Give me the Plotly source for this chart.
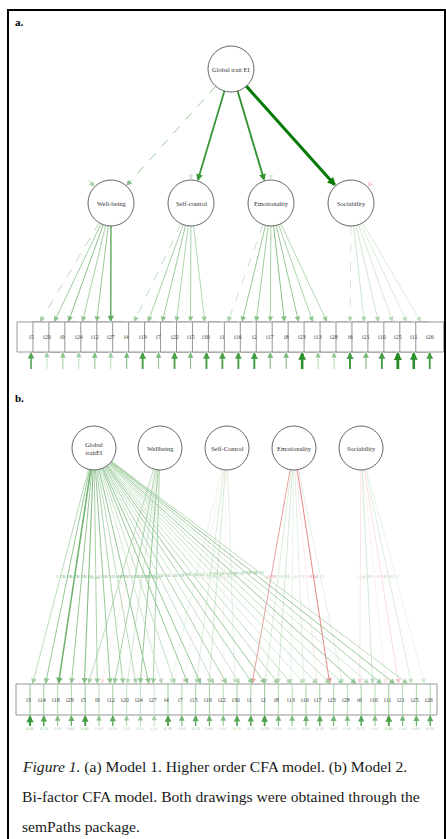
import plotly.graph_objects as go
import math

# ---------------- DATA ----------------
# Panel a: higher-order CFA
A_GLOBAL = "Global trait EI"
A_FACTORS = ["Well-being", "Self-control", "Emotionality", "Sociability"]
A_HIGHER = [0.50, 0.78, 0.80, 0.98]            # global -> factor loadings
A_HIGHER_FIXED = [True, False, False, False]
A_FACTOR_RESID = [0.40, 0.20, 0.15, -0.22]     # factor disturbances
A_ITEMS = ["i5", "i20", "i9", "i24", "i12", "i27",
           "i4", "i19", "i7", "i22", "i15", "i30",
           "i1", "i16", "i2", "i17", "i8", "i23", "i13", "i28",
           "i6", "i21", "i10", "i25", "i11", "i26"]
A_ITEM_FACTOR = [0] * 6 + [1] * 6 + [2] * 8 + [3] * 6
A_LOADINGS = [0.42, 0.50, 0.55, 0.48, 0.52, 0.70,
              0.40, 0.48, 0.50, 0.46, 0.48, 0.45,
              0.38, 0.52, 0.50, 0.48, 0.55, 0.52, 0.47, 0.45,
              0.33, 0.36, 0.35, 0.32, 0.30, 0.28]
A_FIXED = [True] + [False] * 5 + [True] + [False] * 5 + [True] + [False] * 7 + [True] + [False] * 5
A_RESID = [0.75, 0.40, 0.50, 0.40, 0.55, 0.42,
           0.58, 0.80, 0.55, 0.78, 0.58, 0.80,
           0.78, 0.80, 0.82, 0.60, 0.58, 0.92, 0.45, 0.45,
           0.82, 0.60, 0.80, 0.95, 0.92, 0.80]

# Panel b: bi-factor CFA
B_LATENTS = ["Global<br>traitEI", "Wellbeing", "Self-Control", "Emotionality", "Sociability"]
B_ITEMS = ["i3", "i14", "i18", "i29", "i5", "i9", "i12", "i20", "i24", "i27",
           "i4", "i7", "i15", "i19", "i22", "i30",
           "i1", "i2", "i8", "i13", "i16", "i17", "i23", "i28",
           "i6", "i10", "i11", "i21", "i25", "i26"]
B_GROUP = [0] * 4 + [1] * 6 + [2] * 6 + [3] * 8 + [4] * 6
B_GLOBAL = [0.45, 0.55, 0.72, 0.55, 0.60, 0.50, 0.55, 0.50, 0.45, 0.55,
            0.35, 0.42, 0.55, 0.55, 0.40, 0.50,
            0.38, 0.50, 0.55, 0.45, 0.42, 0.32, 0.40, 0.45,
            0.42, 0.55, 0.35, 0.50, 0.55, 0.45]
B_SPECIFIC = [None] * 4 + [0.45, -0.18, 0.50, 0.35, 0.55, 0.50,
                           0.20, -0.15, 0.30, 0.35, -0.12, 0.25,
                           -0.55, 0.30, 0.35, 0.20, 0.25, -0.20, -0.60, 0.25,
                           -0.25, 0.35, -0.15, -0.30, 0.30, 0.20]
B_RESID = [0.85, 0.75, 0.55, 0.65, 0.80, 0.50, 0.70, 0.45, 0.45, 0.40,
           0.78, 0.60, 0.70, 0.65, 0.55, 0.75,
           0.72, 0.78, 0.60, 0.55, 0.65, 0.70, 0.62, 0.55,
           0.72, 0.55, 0.80, 0.60, 0.65, 0.70]

CAPTION = ["<i>Figure 1.</i> (a) Model 1. Higher order CFA model. (b) Model 2.",
           "Bi-factor CFA model. Both drawings were obtained through the",
           "semPaths package."]

# ---------------- helpers ----------------
W, H = 446, 839
SERIF = "Liberation Serif"
fig = go.Figure()
shapes = []
annots = []


def ecol(w, k=0.9):
    f = min(1.0, abs(w) * k)
    base = (0, 120, 0) if w >= 0 else (205, 20, 20)
    r, g, b = [int(round(255 * (1 - f) + c * f)) for c in base]
    return f"rgb({r},{g},{b})"


def ewidth(w):
    return 0.5 + 2.7 * abs(w) ** 3


def arrow(x0, y0, x1, y1, w, dash="solid", label=None, head=True, k=0.9):
    col = ecol(w, k)
    lw = ewidth(w)
    dx, dy = x1 - x0, y1 - y0
    d = math.hypot(dx, dy)
    ux, uy = dx / d, dy / d
    hl = 3.6 + 1.0 * lw
    fig.add_trace(go.Scatter(x=[x0, x1 - ux * 1.5], y=[y0, y1 - uy * 1.5], mode="lines",
                             line=dict(color=col, width=lw, dash=dash),
                             hoverinfo="skip", showlegend=False))
    if head:
        annots.append(dict(x=x1, y=y1, ax=x1 - ux * (hl + 1), ay=y1 - uy * (hl + 1),
                           xref="x", yref="y", axref="x", ayref="y", showarrow=True,
                           arrowhead=2, arrowsize=hl / (4 * lw), arrowwidth=lw,
                           arrowcolor=col, text="", standoff=0))
    if label is not None:
        annots.append(dict(x=(x0 + x1) / 2, y=(y0 + y1) / 2, text=label, showarrow=False,
                           xref="x", yref="y", font=dict(size=4, color=col, family="DejaVu Sans")))


def circ_pt(cx, cy, r, tx, ty):
    d = math.hypot(tx - cx, ty - cy)
    return cx + (tx - cx) / d * r, cy + (ty - cy) / d * r


def latent(cx, cy, r, text, size=6.5):
    shapes.append(dict(type="circle", xref="x", yref="y", x0=cx - r, x1=cx + r, y0=cy - r, y1=cy + r,
                       line=dict(color="#555", width=0.9), fillcolor="white", layer="above"))
    annots.append(dict(x=cx, y=cy, text=text, showarrow=False, xref="x", yref="y",
                       font=dict(size=size, color="#333", family=SERIF)))


def edge_to_item(cx, cy, r, ix, iy_top, iy_bot, w, dash="solid", label=None, k=0.9):
    icy = (iy_top + iy_bot) / 2
    t = (iy_top - cy) / (icy - cy)
    ex, ey = cx + (ix - cx) * t, iy_top
    sx, sy = circ_pt(cx, cy, r, ex, ey)
    arrow(sx, sy, ex, ey, w, dash=dash, label=label, k=k)


# ---------------- panel a ----------------
GA = (231, 69)
RA = 23
FA_Y = 203
FA_X = [111 + 80 * i for i in range(len(A_FACTORS))]
A_TOP, A_BOT = 322, 352
A_HALF = 14
a_cx = [31 + 15.95 * k for k in range(len(A_ITEMS))]

for i, fx in enumerate(FA_X):
    sx, sy = circ_pt(GA[0], GA[1], RA, fx, FA_Y)
    ex, ey = circ_pt(fx, FA_Y, RA, GA[0], GA[1])
    arrow(sx, sy, ex, ey, A_HIGHER[i], dash="dash" if A_HIGHER_FIXED[i] else "solid", k=1.0)
    # disturbance
    ang = [135, 90, 90, 45][i]
    ex2 = fx + RA * math.cos(math.radians(ang))
    ey2 = FA_Y - RA * math.sin(math.radians(ang))
    arrow(ex2 + 9 * math.cos(math.radians(ang)), ey2 - 9 * math.sin(math.radians(ang)),
          ex2, ey2, A_FACTOR_RESID[i])

for k, it in enumerate(A_ITEMS):
    f = A_ITEM_FACTOR[k]
    edge_to_item(FA_X[f], FA_Y, RA, a_cx[k], A_TOP, A_BOT, A_LOADINGS[k],
                 dash="dash" if A_FIXED[k] else "solid")
    arrow(a_cx[k], A_BOT + 17, a_cx[k], A_BOT, A_RESID[k])
    shapes.append(dict(type="rect", xref="x", yref="y", x0=a_cx[k] - A_HALF, x1=a_cx[k] + A_HALF,
                       y0=A_TOP, y1=A_BOT, line=dict(color="#8a8a8a", width=0.9),
                       fillcolor="white", layer="below"))
    annots.append(dict(x=a_cx[k], y=(A_TOP + A_BOT) / 2, text=it, showarrow=False, xref="x", yref="y",
                       font=dict(size=6, color="#444", family=SERIF)))

latent(GA[0], GA[1], RA, A_GLOBAL)
for i, fx in enumerate(FA_X):
    latent(fx, FA_Y, RA, A_FACTORS[i])

# ---------------- panel b ----------------
LB_Y = 448
RB = 22
LB_X = [94, 160, 227, 294, 361]
B_TOP, B_BOT = 684, 715
b_cx = [28.5 + 13.8 * k for k in range(len(B_ITEMS))]

shapes.append(dict(type="rect", xref="x", yref="y", x0=16, x1=437, y0=B_TOP, y1=B_BOT,
                   line=dict(color="#8a8a8a", width=0.9), fillcolor="white", layer="below"))
for k, it in enumerate(B_ITEMS):
    shapes.append(dict(type="line", xref="x", yref="y", x0=b_cx[k] + 1.5, x1=b_cx[k] + 1.5,
                       y0=B_TOP, y1=B_BOT, line=dict(color=ecol(B_RESID[k] * 0.8), width=0.7),
                       layer="below"))
    edge_to_item(LB_X[0], LB_Y, RB, b_cx[k], B_TOP, B_BOT, B_GLOBAL[k],
                 label=f"{B_GLOBAL[k]:.2f}", k=0.8)
    g = B_GROUP[k]
    if g > 0:
        edge_to_item(LB_X[g], LB_Y, RB, b_cx[k], B_TOP, B_BOT, B_SPECIFIC[k],
                     label=f"{B_SPECIFIC[k]:.2f}", k=0.8)
    arrow(b_cx[k] + 1.5, B_BOT + 11, b_cx[k] + 1.5, B_BOT, B_RESID[k])
    annots.append(dict(x=b_cx[k], y=(B_TOP + B_BOT) / 2, text=it, showarrow=False, xref="x", yref="y",
                       font=dict(size=6, color="#444", family=SERIF)))
    annots.append(dict(x=b_cx[k] + 1.5, y=B_BOT + 14, text=f"{B_RESID[k]:.2f}", showarrow=False,
                       xref="x", yref="y", font=dict(size=3.5, color=ecol(B_RESID[k] * 0.7),
                                                     family="DejaVu Sans")))

for i, lx in enumerate(LB_X):
    latent(lx, LB_Y, RB, B_LATENTS[i])

# ---------------- frame & text ----------------
shapes.append(dict(type="rect", xref="x", yref="y", x0=8, x1=445, y0=10, y1=860,
                   line=dict(color="black", width=2), fillcolor="rgba(0,0,0,0)", layer="above"))
annots.append(dict(x=13, y=22, text="<b>a.</b>", showarrow=False, xref="x", yref="y", xanchor="left",
                   font=dict(size=11, color="black", family=SERIF)))
annots.append(dict(x=13, y=398, text="<b>b.</b>", showarrow=False, xref="x", yref="y", xanchor="left",
                   font=dict(size=11, color="black", family=SERIF)))
for j, line in enumerate(CAPTION):
    annots.append(dict(x=20, y=767 + 29.5 * j, text=line, showarrow=False, xref="x", yref="y",
                       xanchor="left", font=dict(size=15.6, color="#1a1a1a", family=SERIF)))

fig.update_layout(
    width=W, height=H, margin=dict(l=0, r=0, t=0, b=0),
    paper_bgcolor="white", plot_bgcolor="white",
    xaxis=dict(range=[0, W], visible=False, fixedrange=True),
    yaxis=dict(range=[H, 0], visible=False, fixedrange=True),
    shapes=shapes, annotations=annots, showlegend=False,
)
fig.write_html("out.html", config={"displayModeBar": False},
               post_script="document.body.style.margin='0';document.body.style.overflow='hidden';")
